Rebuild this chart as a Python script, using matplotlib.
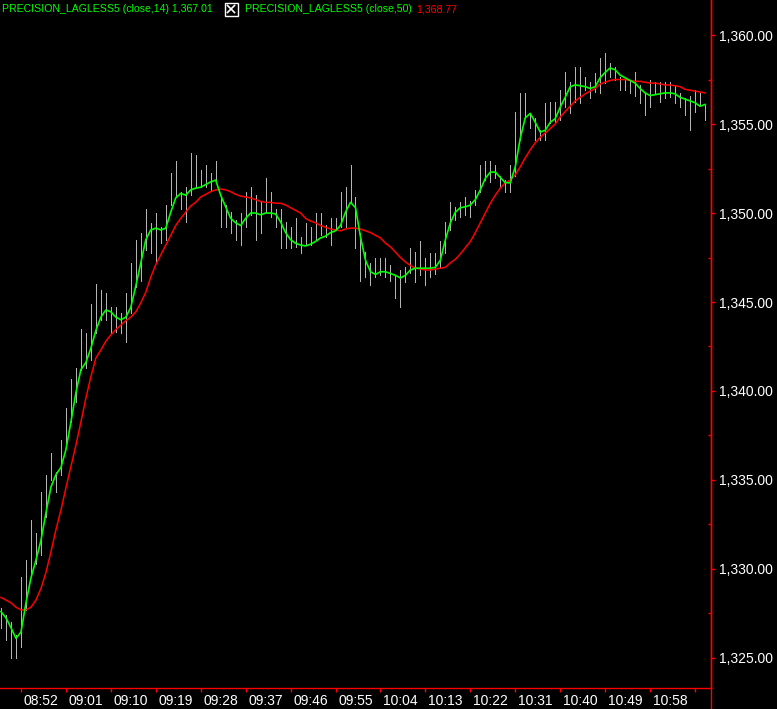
import matplotlib
matplotlib.use("Agg")
import matplotlib.pyplot as plt
import matplotlib.transforms as mtransforms
from matplotlib.lines import Line2D
from matplotlib.patches import Rectangle
from matplotlib.ticker import MultipleLocator, FuncFormatter
import numpy as np

plt.rcParams['font.family'] = ['Liberation Sans', 'DejaVu Sans']

# ---------------- data (1-minute bars starting 08:48) ----------------
high = [1327.8, 1327.4, 1327.0, 1326.3, 1329.55, 1330.5, 1332.75, 1332.0, 1334.3, 1335.3,
        1336.5, 1335.45, 1337.25, 1339.05, 1340.7, 1341.3, 1343.5, 1343.25, 1344.9, 1346.0,
        1345.7, 1345.5, 1344.7, 1344.7, 1344.4, 1345.5, 1347.2, 1348.5, 1348.9, 1350.2,
        1349.45, 1350.0, 1349.2, 1350.45, 1352.25, 1352.9, 1351.2, 1351.45, 1353.4, 1353.25,
        1352.4, 1352.7, 1352.25, 1352.9, 1350.9, 1350.45, 1350.05, 1349.6, 1350.0, 1351.2,
        1351.45, 1351.0, 1350.6, 1351.95, 1351.2, 1350.2, 1350.2, 1349.5, 1349.2, 1349.7,
        1348.65, 1349.45, 1349.2, 1350.0, 1350.0, 1349.3, 1349.7, 1349.7, 1351.2, 1351.45,
        1352.7, 1350.9, 1348.9, 1347.8, 1347.2, 1347.5, 1347.5, 1347.5, 1347.1, 1346.5,
        1346.8, 1346.95, 1348.05, 1347.8, 1348.4, 1347.5, 1347.75, 1347.75, 1348.4, 1349.5,
        1350.6, 1350.35, 1350.6, 1350.9, 1350.7, 1351.3, 1352.7, 1352.9, 1352.9, 1352.7,
        1352.1, 1351.85, 1352.7, 1355.7, 1356.75, 1356.75, 1355.6, 1355.35, 1354.65, 1356.2,
        1356.25, 1356.25, 1356.9, 1357.9, 1357.35, 1358.2, 1358.2, 1357.65, 1357.35, 1357.85,
        1358.7, 1359.0, 1358.45, 1358.2, 1357.65, 1357.45, 1357.45, 1357.9, 1357.2, 1356.75,
        1357.45, 1357.35, 1357.35, 1357.35, 1357.35, 1357.2, 1356.75, 1356.45, 1356.6, 1356.9,
        1356.75, 1356.05]

low = [1326.7, 1326.0, 1325.0, 1325.0, 1325.6, 1327.7, 1329.8, 1330.3, 1330.8, 1332.9,
       1335.0, 1334.3, 1335.3, 1336.85, 1338.25, 1339.4, 1341.2, 1341.3, 1341.75, 1343.25,
       1344.0, 1344.0, 1343.25, 1343.3, 1343.25, 1342.75, 1344.4, 1345.85, 1346.2, 1347.9,
       1347.75, 1347.2, 1348.3, 1348.5, 1350.45, 1350.9, 1350.2, 1349.5, 1351.0, 1351.45,
       1351.45, 1351.45, 1351.3, 1351.75, 1349.2, 1349.2, 1348.9, 1348.5, 1348.2, 1349.2,
       1349.9, 1348.5, 1348.9, 1350.05, 1349.75, 1349.2, 1348.05, 1348.05, 1348.05, 1348.1,
       1347.75, 1348.2, 1348.2, 1348.5, 1348.75, 1348.65, 1348.2, 1349.05, 1349.2, 1349.2,
       1350.55, 1348.05, 1346.2, 1346.4, 1345.95, 1346.4, 1346.5, 1346.4, 1346.2, 1345.2,
       1344.7, 1346.1, 1346.65, 1346.1, 1346.5, 1345.95, 1346.4, 1346.6, 1346.9, 1347.75,
       1349.05, 1349.6, 1349.8, 1349.9, 1349.8, 1350.45, 1351.2, 1351.85, 1351.75, 1351.95,
       1351.4, 1351.2, 1351.2, 1352.1, 1354.1, 1355.35, 1354.8, 1354.1, 1354.1, 1354.1,
       1355.05, 1355.1, 1355.2, 1355.95, 1355.6, 1356.25, 1356.2, 1356.9, 1356.45, 1356.8,
       1356.75, 1357.3, 1357.65, 1357.45, 1356.9, 1356.9, 1356.75, 1356.6, 1356.2, 1355.5,
       1355.95, 1356.75, 1356.25, 1356.45, 1356.5, 1356.2, 1355.95, 1355.5, 1354.65, 1355.7,
       1356.05, 1355.2]

lagless14 = [1327.6, 1327.25, 1326.7, 1326.1, 1326.45, 1328.1, 1329.5, 1330.5, 1331.6, 1333.15,
             1334.6, 1335.3, 1335.7, 1336.7, 1338.25, 1339.9, 1341.2, 1341.6, 1342.4, 1343.4,
             1344.15, 1344.55, 1344.45, 1344.15, 1344.0, 1344.15, 1344.7, 1345.9, 1347.2, 1348.5,
             1349.05, 1349.15, 1349.05, 1349.15, 1350.05, 1350.85, 1351.1, 1351.0, 1351.3, 1351.4,
             1351.45, 1351.6, 1351.75, 1351.85, 1351.0, 1350.35, 1349.7, 1349.45, 1349.3, 1349.7,
             1350.0, 1350.0, 1349.9, 1350.0, 1350.0, 1349.95, 1349.5, 1348.9, 1348.5, 1348.3,
             1348.2, 1348.15, 1348.25, 1348.4, 1348.6, 1348.7, 1348.9, 1349.0, 1349.3, 1350.05,
             1350.6, 1350.3, 1348.65, 1347.35, 1346.7, 1346.55, 1346.7, 1346.7, 1346.6, 1346.5,
             1346.35, 1346.5, 1346.8, 1346.9, 1346.9, 1346.9, 1346.9, 1346.95, 1347.35, 1348.5,
             1349.45, 1350.05, 1350.3, 1350.35, 1350.45, 1350.75, 1351.3, 1351.95, 1352.3, 1352.3,
             1352.0, 1351.7, 1351.7, 1352.6, 1354.2, 1355.35, 1355.6, 1355.1, 1354.55, 1354.65,
             1355.1, 1355.3, 1355.95, 1356.5, 1357.1, 1357.2, 1357.15, 1357.1, 1357.0, 1357.1,
             1357.6, 1357.9, 1358.15, 1358.05, 1357.75, 1357.6, 1357.45, 1357.3, 1357.0, 1356.75,
             1356.6, 1356.65, 1356.7, 1356.75, 1356.75, 1356.7, 1356.5, 1356.4, 1356.3, 1356.2,
             1356.0, 1356.1]

lagless50 = [1328.4, 1328.25, 1328.1, 1327.85, 1327.7, 1327.7, 1327.85, 1328.25, 1328.9, 1329.8,
             1330.95, 1332.2, 1333.3, 1334.55, 1335.75, 1336.95, 1338.25, 1339.6, 1340.8, 1341.85,
             1342.3, 1342.8, 1343.15, 1343.45, 1343.7, 1343.95, 1344.15, 1344.45, 1344.95, 1345.55,
             1346.4, 1347.1, 1347.65, 1348.2, 1348.75, 1349.3, 1349.7, 1350.05, 1350.4, 1350.6,
             1350.9, 1351.05, 1351.2, 1351.3, 1351.35, 1351.3, 1351.2, 1351.05, 1350.95, 1350.9,
             1350.85, 1350.75, 1350.65, 1350.6, 1350.6, 1350.55, 1350.55, 1350.45, 1350.3, 1350.15,
             1350.0, 1349.7, 1349.55, 1349.45, 1349.3, 1349.2, 1349.1, 1349.05, 1349.0, 1349.1,
             1349.15, 1349.15, 1349.1, 1349.0, 1348.9, 1348.75, 1348.6, 1348.3, 1348.1, 1347.8,
             1347.5, 1347.25, 1347.05, 1346.9, 1346.85, 1346.8, 1346.8, 1346.85, 1346.9, 1346.95,
             1347.2, 1347.4, 1347.7, 1348.05, 1348.4, 1348.9, 1349.45, 1350.0, 1350.55, 1351.0,
             1351.4, 1351.7, 1351.85, 1352.15, 1352.6, 1353.1, 1353.55, 1353.95, 1354.25, 1354.5,
             1354.75, 1355.0, 1355.4, 1355.7, 1356.0, 1356.3, 1356.5, 1356.7, 1356.85, 1357.0,
             1357.25, 1357.35, 1357.45, 1357.5, 1357.5, 1357.5, 1357.45, 1357.4, 1357.4, 1357.35,
             1357.3, 1357.3, 1357.25, 1357.2, 1357.2, 1357.15, 1357.1, 1356.95, 1356.9, 1356.85,
             1356.8, 1356.75]

tick_positions = [4, 13, 22, 31, 40, 49, 58, 67, 76, 85, 94, 103, 112, 121, 130, 139]
tick_labels = ["08:52", "09:01", "09:10", "09:19", "09:28", "09:37", "09:46", "09:55",
               "10:04", "10:13", "10:22", "10:31", "10:40", "10:49", "10:58", ""]
y_ticks = [1325, 1330, 1335, 1340, 1345, 1350, 1355, 1360]

label_fast = "PRECISION_LAGLESS5 (close,14) 1,367.01"
label_slow = "PRECISION_LAGLESS5 (close,50)"
label_slow_val = "1,368.77"

# ---------------- figure ----------------
W, H = 777, 709
fig = plt.figure(figsize=(W / 100, H / 100), dpi=100, facecolor='black')
ax = fig.add_axes([0, 21 / H, 710.5 / W, 688 / H], facecolor='black')

x = np.arange(len(high))
ax.vlines(x, low, high, color='#b4b4b4', lw=0.72, antialiased=False)
ax.plot(x, lagless50, color='#ff0000', lw=1.1)
ax.plot(x, lagless14, color='#00ff00', lw=1.2)

ax.set_xlim(-0.2, 142.1)
ax.set_ylim(1323.31, 1361.97)

for s in ['left', 'top']:
    ax.spines[s].set_visible(False)
for s in ['right', 'bottom']:
    ax.spines[s].set_color('#ff0000')
    ax.spines[s].set_linewidth(1.0)

# right axis line extends to bottom of figure
fig.add_artist(Line2D([710.5 / W, 710.5 / W], [0, 1], color='#ff0000', lw=1.0,
                      transform=fig.transFigure))

ax.yaxis.tick_right()
ax.set_yticks(y_ticks)
ax.yaxis.set_major_formatter(FuncFormatter(lambda v, p: f"{v:,.2f}"))
ax.yaxis.set_minor_locator(MultipleLocator(2.5))
ax.tick_params(axis='y', which='major', direction='out', length=3, width=1,
               color='#ff0000', labelcolor='white', labelsize=10, pad=3)
ax.tick_params(axis='y', which='minor', direction='in', length=2.5, width=1,
               color='#ff0000')

ax.set_xticks(tick_positions)
ax.set_xticklabels(tick_labels)
ax.tick_params(axis='x', which='major', direction='out', length=3, width=1,
               color='#ff0000', labelcolor='white', labelsize=10, pad=1.5)
offset = mtransforms.ScaledTranslation(3 / 100, 0, fig.dpi_scale_trans)
for lab in ax.get_xticklabels():
    lab.set_horizontalalignment('left')
    lab.set_transform(lab.get_transform() + offset)

# ---------------- header overlay ----------------
ov = fig.add_axes([0, 0, 1, 1], facecolor='none')
ov.set_xlim(0, W)
ov.set_ylim(H, 0)
ov.axis('off')
hdr = 7.6
ov.text(2, 9.5, label_fast, color='#00ff00', fontsize=hdr, va='center', ha='left')
ov.add_patch(Rectangle((224.5, 2.5), 13, 13, fill=False, edgecolor='white', lw=1.0))
ov.plot([227.5, 234.5], [5.5, 12.5], color='white', lw=1.2)
ov.plot([227.5, 234.5], [12.5, 5.5], color='white', lw=1.2)
t2 = ov.text(245, 9.5, label_slow, color='#00ff00', fontsize=hdr, va='center', ha='left')
ov.annotate(label_slow_val, xy=(1, 0.5), xycoords=t2, xytext=(3, 0),
            textcoords='offset points', color='#ff0000', fontsize=hdr,
            va='center', ha='left')

fig.savefig('out.png', dpi=100, facecolor='black')
